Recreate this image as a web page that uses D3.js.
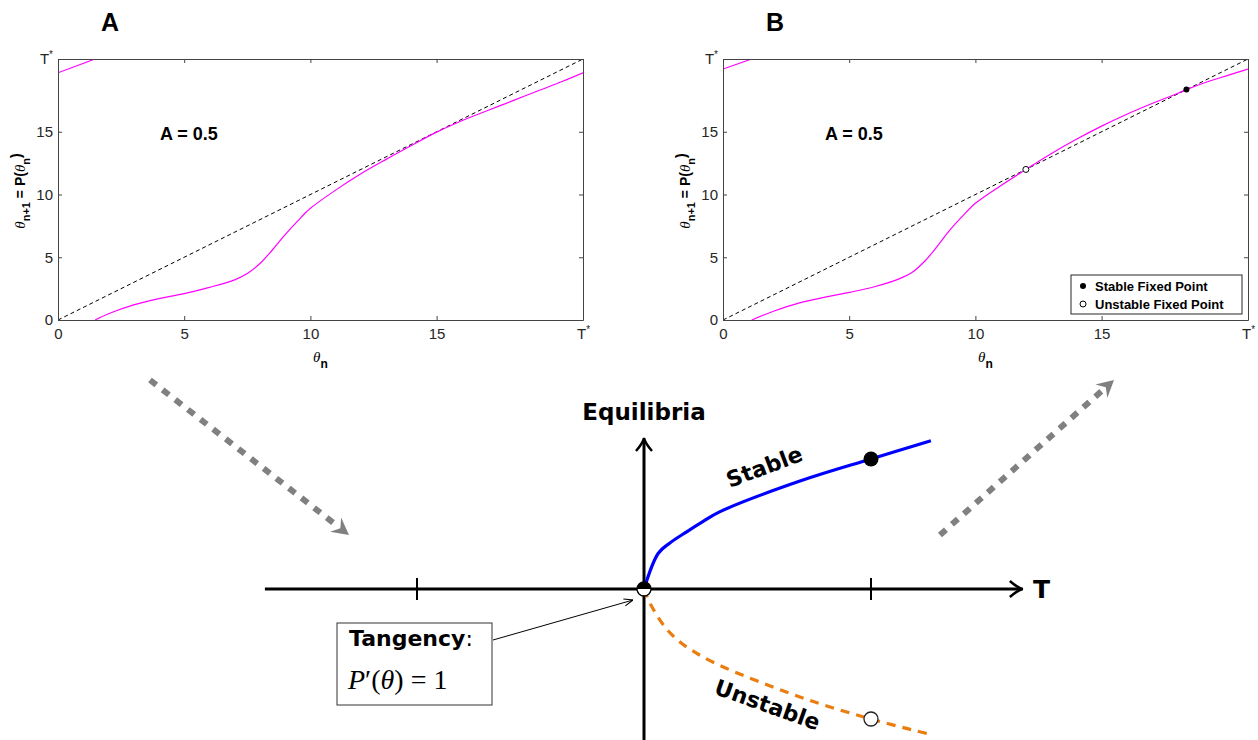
<!DOCTYPE html>
<html>
<head>
<meta charset="utf-8">
<script src="https://cdn.jsdelivr.net/npm/d3@7"></script>
<style>
body { margin: 0; background: #fff; }
svg { display: block; font-family: "Liberation Sans", Arial, sans-serif; }
</style>
</head>
<body>
<svg id="chart" width="1258" height="740"></svg>
<script>
// period of the map
const Tstar = 20.8;
const tickVals = [0, 5, 10, 15, Tstar];
const tickLabels = ["0", "5", "10", "15", "T*"];

// panel A : return map, tangent to the diagonal near 15
const thetaA = [1.47, 2, 3, 4, 5, 6, 7, 7.5, 8, 8.5, 9, 9.5, 10, 11, 12, 13, 14, 15, 16, 17, 18, 19, 20, 20.8];
const mapA   = [0, 0.5, 1.2, 1.7, 2.1, 2.6, 3.2, 3.7, 4.5, 5.6, 6.8, 7.9, 8.9, 10.35, 11.65, 12.8, 13.9, 14.97, 15.88, 16.68, 17.46, 18.25, 19.03, 19.7];
const thetaAwrap = [0, 1.47];
const mapAwrap   = [19.7, 20.8];

// panel B : two fixed points
const thetaB = [1.14, 2, 3, 4, 5, 6, 7, 7.5, 8, 8.5, 9, 9.5, 10, 11, 12, 13, 14, 15, 16, 17, 18, 18.36, 19, 20, 20.8];
const mapB   = [0, 0.7, 1.35, 1.8, 2.2, 2.65, 3.3, 3.8, 4.7, 5.9, 7.2, 8.3, 9.3, 10.7, 12.0, 13.25, 14.4, 15.45, 16.4, 17.25, 18.05, 18.36, 18.85, 19.5, 20.0];
const thetaBwrap = [0, 1.14];
const mapBwrap   = [20.0, 20.8];
const stableFP   = [18.36];
const unstableFP = [12.0];

// bifurcation sketch (T vs equilibria)
const stableT   = [0, 0.063, 0.114, 0.188, 0.259, 0.335, 0.687, 1.0, 1.264];
const stableE   = [0, 0.275, 0.354, 0.44, 0.518, 0.595, 0.83, 1.0, 1.14];
const unstableT = [0, 0.026, 0.115, 0.26, 0.687, 1.0, 1.264];
const unstableE = [0, -0.108, -0.338, -0.523, -0.83, -1.0, -1.12];
const sketchTicks = [-1, 1];

const svg = d3.select("#chart");

function panel(left, letter, th, mp, thw, mpw, fixed) {
  const right = left + 525, top = 59, bottom = 320;
  const x = d3.scaleLinear().domain([0, Tstar]).range([left, right]);
  const y = d3.scaleLinear().domain([0, Tstar]).range([bottom, top]);
  const g = svg.append("g");
  const clipId = "clip" + letter;
  svg.append("clipPath").attr("id", clipId).append("rect")
    .attr("x", left).attr("y", top).attr("width", right - left).attr("height", bottom - top);

  const line = d3.line().x(d => x(d[0])).y(d => y(d[1])).curve(d3.curveCatmullRom.alpha(0.5));

  g.append("path").datum([[0, 0], [Tstar, Tstar]])
    .attr("d", line).attr("fill", "none").attr("stroke", "#000")
    .attr("stroke-width", 1).attr("stroke-dasharray", "4,3");

  const cg = g.append("g").attr("clip-path", `url(#${clipId})`);
  cg.append("path").datum(d3.zip(th, mp)).attr("d", line)
    .attr("fill", "none").attr("stroke", "#ff00ff").attr("stroke-width", 1.2);
  cg.append("path").datum(d3.zip(thw, mpw)).attr("d", line)
    .attr("fill", "none").attr("stroke", "#ff00ff").attr("stroke-width", 1.2);

  const styleAxis = (a, labelled) => {
    a.selectAll("path, line").attr("stroke", "#444").attr("stroke-width", 1);
    a.selectAll("text").attr("fill", "#262626").attr("font-size", 15)
      .attr("font-family", "Liberation Sans, Arial, sans-serif");
    if (!labelled) return;
    a.selectAll(".tick text").each(function(d, i) {
      if (tickLabels[i] === "T*") {
        const t = d3.select(this).text("T");
        t.append("tspan").attr("dy", -6).attr("font-size", 10).text("*");
      }
    });
  };
  const fmt = (d, i) => tickLabels[i];
  g.append("g").attr("transform", `translate(0,${bottom})`)
    .call(d3.axisBottom(x).tickValues(tickVals).tickFormat(fmt).tickSizeInner(-4).tickSizeOuter(0).tickPadding(8))
    .call(styleAxis, true);
  g.append("g").attr("transform", `translate(${left},0)`)
    .call(d3.axisLeft(y).tickValues(tickVals).tickFormat(fmt).tickSizeInner(-4).tickSizeOuter(0).tickPadding(5))
    .call(styleAxis, true);
  g.append("g").attr("transform", `translate(0,${top})`)
    .call(d3.axisTop(x).tickValues(tickVals).tickFormat("").tickSizeInner(-4).tickSizeOuter(0))
    .call(styleAxis, false);
  g.append("g").attr("transform", `translate(${right},0)`)
    .call(d3.axisRight(y).tickValues(tickVals).tickFormat("").tickSizeInner(-4).tickSizeOuter(0))
    .call(styleAxis, false);

  // panel letter
  svg.append("text").attr("x", left + 52).attr("y", 31).attr("text-anchor", "middle")
    .attr("font-size", 25).attr("font-weight", "bold").text(letter);
  svg.append("text").attr("x", left + 102).attr("y", 140)
    .attr("font-size", 18).attr("font-weight", "bold").text("A = 0.5");

  // x label
  const xl = svg.append("text").attr("x", left + 255).attr("y", 362).attr("font-size", 15);
  xl.append("tspan").attr("font-style", "italic").attr("font-family", "Liberation Serif, serif").text("θ");
  xl.append("tspan").attr("dy", 6).attr("font-size", 12).attr("font-weight", "bold").text("n");

  // y label
  const yl = svg.append("text").attr("transform", `translate(${left - 33},191) rotate(-90)`)
    .attr("text-anchor", "middle").attr("font-size", 14).attr("font-weight", "bold");
  yl.append("tspan").attr("font-style", "italic").attr("font-weight", "normal")
    .attr("font-family", "Liberation Serif, serif").attr("font-size", 15).text("θ");
  yl.append("tspan").attr("dy", 5).attr("font-size", 11).text("n+1");
  yl.append("tspan").attr("dy", -5).text(" = P(");
  yl.append("tspan").attr("font-style", "italic").attr("font-weight", "normal")
    .attr("font-family", "Liberation Serif, serif").attr("font-size", 15).text("θ");
  yl.append("tspan").attr("dy", 5).attr("font-size", 11).text("n");
  yl.append("tspan").attr("dy", -9).text(")");

  if (fixed) {
    g.selectAll(".fps").data(stableFP).join("circle")
      .attr("cx", d => x(d)).attr("cy", d => y(d)).attr("r", 3).attr("fill", "#000");
    g.selectAll(".fpu").data(unstableFP).join("circle")
      .attr("cx", d => x(d)).attr("cy", d => y(d)).attr("r", 3)
      .attr("fill", "#fff").attr("stroke", "#000").attr("stroke-width", 1);

    // legend
    const lg = g.append("g").attr("transform", "translate(1071,275)");
    lg.append("rect").attr("width", 171).attr("height", 39)
      .attr("fill", "#fff").attr("stroke", "#262626").attr("stroke-width", 1);
    lg.append("circle").attr("cx", 12).attr("cy", 11).attr("r", 3).attr("fill", "#000");
    lg.append("circle").attr("cx", 12).attr("cy", 29).attr("r", 3)
      .attr("fill", "#fff").attr("stroke", "#000");
    lg.append("text").attr("x", 24).attr("y", 16).attr("font-size", 13)
      .attr("font-weight", "bold").text("Stable Fixed Point");
    lg.append("text").attr("x", 24).attr("y", 34).attr("font-size", 13)
      .attr("font-weight", "bold").text("Unstable Fixed Point");
  }
}

panel(58, "A", thetaA, mapA, thetaAwrap, mapAwrap, false);
panel(723, "B", thetaB, mapB, thetaBwrap, mapBwrap, true);

// ---------- bifurcation sketch ----------
const xT = d3.scaleLinear().domain([0, 1]).range([644, 871]);
const yE = d3.scaleLinear().domain([0, 1]).range([589, 459]);
const sk = svg.append("g").attr("font-family", "DejaVu Sans, sans-serif");

// axes
sk.append("line").attr("x1", xT(-1.67)).attr("x2", xT(1.66)).attr("y1", yE(0)).attr("y2", yE(0))
  .attr("stroke", "#000").attr("stroke-width", 3);
sk.append("line").attr("x1", xT(0)).attr("x2", xT(0)).attr("y1", 740).attr("y2", 440)
  .attr("stroke", "#000").attr("stroke-width", 3);
const hx = xT(1.66) + 2, hy = yE(0);
sk.append("path").attr("d", `M${hx - 13},${hy - 8} Q${hx - 5},${hy - 1} ${hx},${hy} Q${hx - 5},${hy + 1} ${hx - 13},${hy + 8}`)
  .attr("fill", "none").attr("stroke", "#000").attr("stroke-width", 2.5);
const vx = xT(0), vy = 438;
sk.append("path").attr("d", `M${vx - 8},${vy + 13} Q${vx - 1},${vy + 5} ${vx},${vy} Q${vx + 1},${vy + 5} ${vx + 8},${vy + 13}`)
  .attr("fill", "none").attr("stroke", "#000").attr("stroke-width", 2.5);
sk.selectAll(".tk").data(sketchTicks).join("line")
  .attr("x1", d => xT(d)).attr("x2", d => xT(d)).attr("y1", yE(0) - 11).attr("y2", yE(0) + 11)
  .attr("stroke", "#000").attr("stroke-width", 2);

sk.append("text").attr("x", xT(0)).attr("y", 420).attr("text-anchor", "middle")
  .attr("font-size", 23).attr("font-weight", "bold").text("Equilibria");
sk.append("text").attr("x", 1033).attr("y", 598).attr("font-size", 25)
  .attr("font-weight", "bold").text("T");

const sline = d3.line().x(d => xT(d[0])).y(d => yE(d[1])).curve(d3.curveCatmullRom.alpha(0.5));
sk.append("path").datum(d3.zip(stableT, stableE)).attr("d", sline)
  .attr("fill", "none").attr("stroke", "#0000ff").attr("stroke-width", 3.2);
sk.append("path").datum(d3.zip(unstableT, unstableE)).attr("d", sline)
  .attr("fill", "none").attr("stroke", "#ea7d0e").attr("stroke-width", 3.2)
  .attr("stroke-dasharray", "9,7");

// markers at T = 1
const iS = stableT.indexOf(1), iU = unstableT.indexOf(1);
sk.append("circle").attr("cx", xT(stableT[iS])).attr("cy", yE(stableE[iS])).attr("r", 7.5).attr("fill", "#000");
sk.append("circle").attr("cx", xT(unstableT[iU])).attr("cy", yE(unstableE[iU])).attr("r", 7)
  .attr("fill", "#fff").attr("stroke", "#222").attr("stroke-width", 1.3);

// half-filled tangency point
const ox = xT(0), oy = yE(0);
sk.append("circle").attr("cx", ox).attr("cy", oy).attr("r", 7)
  .attr("fill", "#fff").attr("stroke", "#000").attr("stroke-width", 1.3);
sk.append("path").attr("d", `M${ox - 7},${oy} A7,7 0 0 1 ${ox + 7},${oy} Z`).attr("fill", "#000");

sk.append("text").attr("transform", "translate(767,474) rotate(-20.5)").attr("text-anchor", "middle")
  .attr("font-size", 22).attr("font-weight", "bold").text("Stable");
sk.append("text").attr("transform", "translate(765,712) rotate(19.5)").attr("text-anchor", "middle")
  .attr("font-size", 22).attr("font-weight", "bold").text("Unstable");

// tangency annotation
sk.append("rect").attr("x", 337).attr("y", 623).attr("width", 155).attr("height", 82)
  .attr("fill", "#fff").attr("stroke", "#333").attr("stroke-width", 1);
const t1 = sk.append("text").attr("x", 349).attr("y", 646).attr("font-size", 22);
t1.append("tspan").attr("font-weight", "bold").text("Tangency");
t1.append("tspan").text(":");
const t2 = sk.append("text").attr("x", 348).attr("y", 689).attr("font-size", 28)
  .attr("font-family", "Liberation Serif, serif");
t2.append("tspan").attr("font-style", "italic").text("P");
t2.append("tspan").text("′(");
t2.append("tspan").attr("font-style", "italic").text("θ");
t2.append("tspan").text(") = 1");

svg.append("defs").append("marker").attr("id", "thin").attr("viewBox", "0 0 10 10")
  .attr("refX", 10).attr("refY", 5).attr("markerWidth", 9).attr("markerHeight", 9)
  .attr("markerUnits", "userSpaceOnUse").attr("orient", "auto")
  .append("path").attr("d", "M0,1 L10,5 L0,9").attr("fill", "none").attr("stroke", "#000").attr("stroke-width", 1.2);
sk.append("line").attr("x1", 493).attr("y1", 640).attr("x2", 633).attr("y2", 600)
  .attr("stroke", "#000").attr("stroke-width", 1).attr("marker-end", "url(#thin)");

// gray dotted transition arrows
function grayArrow(x1, y1, x2, y2) {
  const dx = x2 - x1, dy = y2 - y1, L = Math.hypot(dx, dy);
  const ux = dx / L, uy = dy / L, px = -uy, py = ux;
  const nx = x2 - 11 * ux, ny = y2 - 11 * uy;
  sk.append("line").attr("x1", x1).attr("y1", y1).attr("x2", nx - 2 * ux).attr("y2", ny - 2 * uy)
    .attr("stroke", "#808080").attr("stroke-width", 6).attr("stroke-dasharray", "8,8");
  const bx = x2 - 17 * ux, by = y2 - 17 * uy;
  sk.append("path").attr("d",
    `M${x2},${y2} L${bx + 9 * px},${by + 9 * py} L${nx},${ny} L${bx - 9 * px},${by - 9 * py} Z`)
    .attr("fill", "#808080");
}
grayArrow(150, 380, 349, 535);
grayArrow(940, 535, 1114, 380);
</script>
</body>
</html>
